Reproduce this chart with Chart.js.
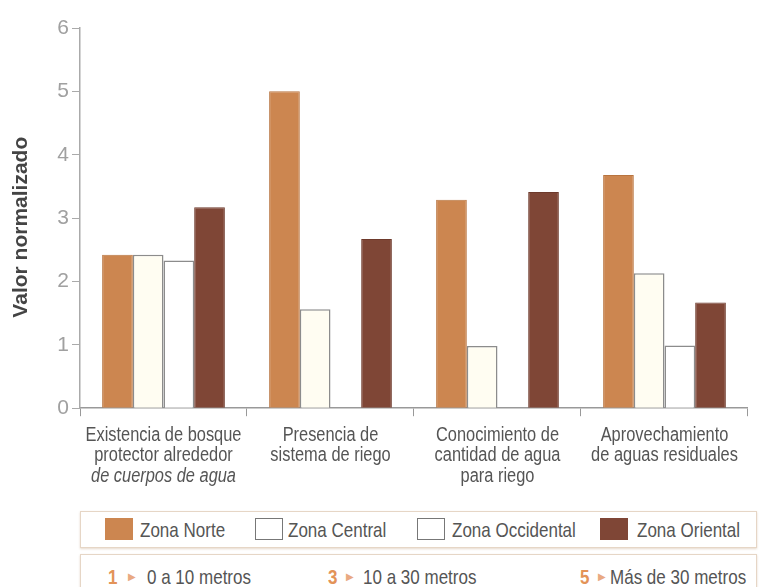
<!DOCTYPE html>
<html>
<head>
<meta charset="utf-8">
<script src="https://cdn.jsdelivr.net/npm/chart.js@4"></script>
<style>
  body { margin: 0; background: #fff; }
  #wrap { position: relative; width: 760px; height: 587px; overflow: hidden;
          font-family: 'Liberation Sans', Arial, sans-serif; color: #555; }
  #chart { position: absolute; left: 0; top: 0; }
  .box { position: absolute; left: 80px; width: 677px; box-sizing: border-box;
         border: 1px solid #e6d6c6; box-shadow: 0 1px 2px rgba(200, 170, 140, 0.45); }
  .sw { position: absolute; width: 28px; height: 22px; box-sizing: border-box; }
  .txt { position: absolute; font-size: 21px; white-space: nowrap;
         transform: scaleX(0.81); transform-origin: left center; }
  .num { color: #e39358; font-weight: bold; }
  .arr { position: absolute; color: #e9a982; font-size: 10px; white-space: nowrap; }
</style>
</head>
<body>
<div id="wrap">
  <canvas id="chart" width="760" height="500"></canvas>
  <div class="box" style="top:511px; height:37px;"></div>
  <div class="box" style="top:554px; height:42px;"></div>
</div>
<script>
const categories = [
  ['Existencia de bosque', 'protector alrededor', 'de cuerpos de agua'],
  ['Presencia de', 'sistema de riego'],
  ['Conocimiento de', 'cantidad de agua', 'para riego'],
  ['Aprovechamiento', 'de aguas residuales']
];
const zoneNames = ['Zona Norte', 'Zona Central', 'Zona Occidental', 'Zona Oriental'];
const norte = [2.42, 5.0, 3.29, 3.68];
const central = [2.42, 1.56, 0.98, 2.13];
const occidental = [2.33, null, null, 0.99];
const oriental = [3.17, 2.67, 3.41, 1.67];
const rangeNums = ['1', '3', '5'];
const rangeLabels = ['0 a 10 metros', '10 a 30 metros', 'Más de 30 metros'];
const yTitle = 'Valor normalizado';

const fills = ['#cc8650', '#fffdf2', '#ffffff', '#7f4636'];
const borders = ['#b8743f', '#8c8c8c', '#8c8c8c', '#6e3a2c'];
const sansFont = "'Liberation Sans', Arial, sans-serif";

const series = [norte, central, occidental, oriental];

// draws the condensed category labels and the y title
const labelPlugin = {
    id: 'catLabels',
    afterDraw(chart) {
        const c = chart.ctx;
        const xs = chart.scales.x;
        const area = chart.chartArea;
        c.save();
        c.textAlign = 'center';
        c.textBaseline = 'middle';
        c.fillStyle = '#555';
        categories.forEach((lines, i) => {
            const x = xs.getPixelForTick(i);
            lines.forEach((line, j) => {
                const italic = i === 0 && j === 2;
                c.save();
                c.translate(x, area.bottom + 27 + j * 20.5);
                c.scale(0.82, 1);
                c.font = (italic ? 'italic ' : '') + '20px ' + sansFont;
                c.fillText(line, 0, 0);
                c.restore();
            });
        });
        c.translate(21, area.bottom - 181);
        c.rotate(-Math.PI / 2);
        c.fillStyle = '#444';
        c.font = 'bold 21px ' + sansFont;
        c.fillText(yTitle, 0, 0);
        c.restore();
    }
};

const ctx = document.getElementById('chart').getContext('2d');

new Chart(ctx, {
    type: 'bar',
    data: {
        labels: categories,
        datasets: series.map((vals, i) => ({
            label: zoneNames[i],
            data: vals,
            backgroundColor: fills[i],
            borderColor: borders[i],
            borderWidth: i === 1 || i === 2 ? 1.5 : 1,
            categoryPercentage: 0.735,
            barPercentage: 1.0
        }))
    },
    options: {
        responsive: false,
        animation: false,
        layout: { padding: { top: 28, right: 0, bottom: 10, left: 0 } },
        plugins: {
            legend: { display: false },
            tooltip: { enabled: false }
        },
        scales: {
            x: {
                grid: { display: true, drawOnChartArea: false, drawTicks: true, tickLength: 8, color: '#999' },
                border: { display: true, color: '#999', width: 1.5 },
                ticks: {
                    color: 'rgba(0,0,0,0)',
                    padding: 6,
                    maxRotation: 0,
                    autoSkip: false,
                    font: { family: sansFont, size: 20, lineHeight: 1.03 }
                }
            },
            y: {
                min: 0,
                max: 6,
                afterFit: (scale) => { scale.width = 80; },
                grid: { display: true, drawOnChartArea: false, drawTicks: true, tickLength: 8, color: '#aaa' },
                border: { display: true, color: '#aaa', width: 1.5 },
                ticks: {
                    stepSize: 1,
                    color: '#a0a0a0',
                    padding: 3,
                    font: { family: sansFont, size: 21 }
                }
            }
        }
    },
    plugins: [labelPlugin]
});

// legend rows (html text)
const wrap = document.getElementById('wrap');
const swatchX = [105, 255, 417, 600];
const zoneTextX = [140, 288, 452, 637];
zoneNames.forEach((name, i) => {
    const sw = document.createElement('div');
    sw.className = 'sw';
    const hollow = i === 1 || i === 2;
    sw.style.left = swatchX[i] + 'px';
    sw.style.top = '518px';
    sw.style.background = hollow ? '#fff' : fills[i];
    sw.style.border = '1.5px solid ' + (hollow ? '#777' : fills[i]);
    wrap.appendChild(sw);
    const t = document.createElement('div');
    t.className = 'txt';
    t.style.left = zoneTextX[i] + 'px';
    t.style.top = '512px';
    t.style.lineHeight = '36px';
    t.textContent = name;
    wrap.appendChild(t);
});

const numX = [108, 328, 580];
const arrowX = [128, 346, 598];
const rangeTextX = [147, 363, 610];
rangeNums.forEach((n, i) => {
    const num = document.createElement('div');
    num.className = 'txt num';
    num.style.left = numX[i] + 'px';
    num.style.top = '559px';
    num.style.lineHeight = '36px';
    num.textContent = n;
    wrap.appendChild(num);
    const arr = document.createElement('div');
    arr.className = 'arr';
    arr.style.left = arrowX[i] + 'px';
    arr.style.top = '559px';
    arr.style.lineHeight = '36px';
    arr.innerHTML = '&#9654;';
    wrap.appendChild(arr);
    const t = document.createElement('div');
    t.className = 'txt';
    t.style.left = rangeTextX[i] + 'px';
    t.style.top = '559px';
    t.style.lineHeight = '36px';
    t.textContent = rangeLabels[i];
    wrap.appendChild(t);
});
</script>
</body>
</html>
